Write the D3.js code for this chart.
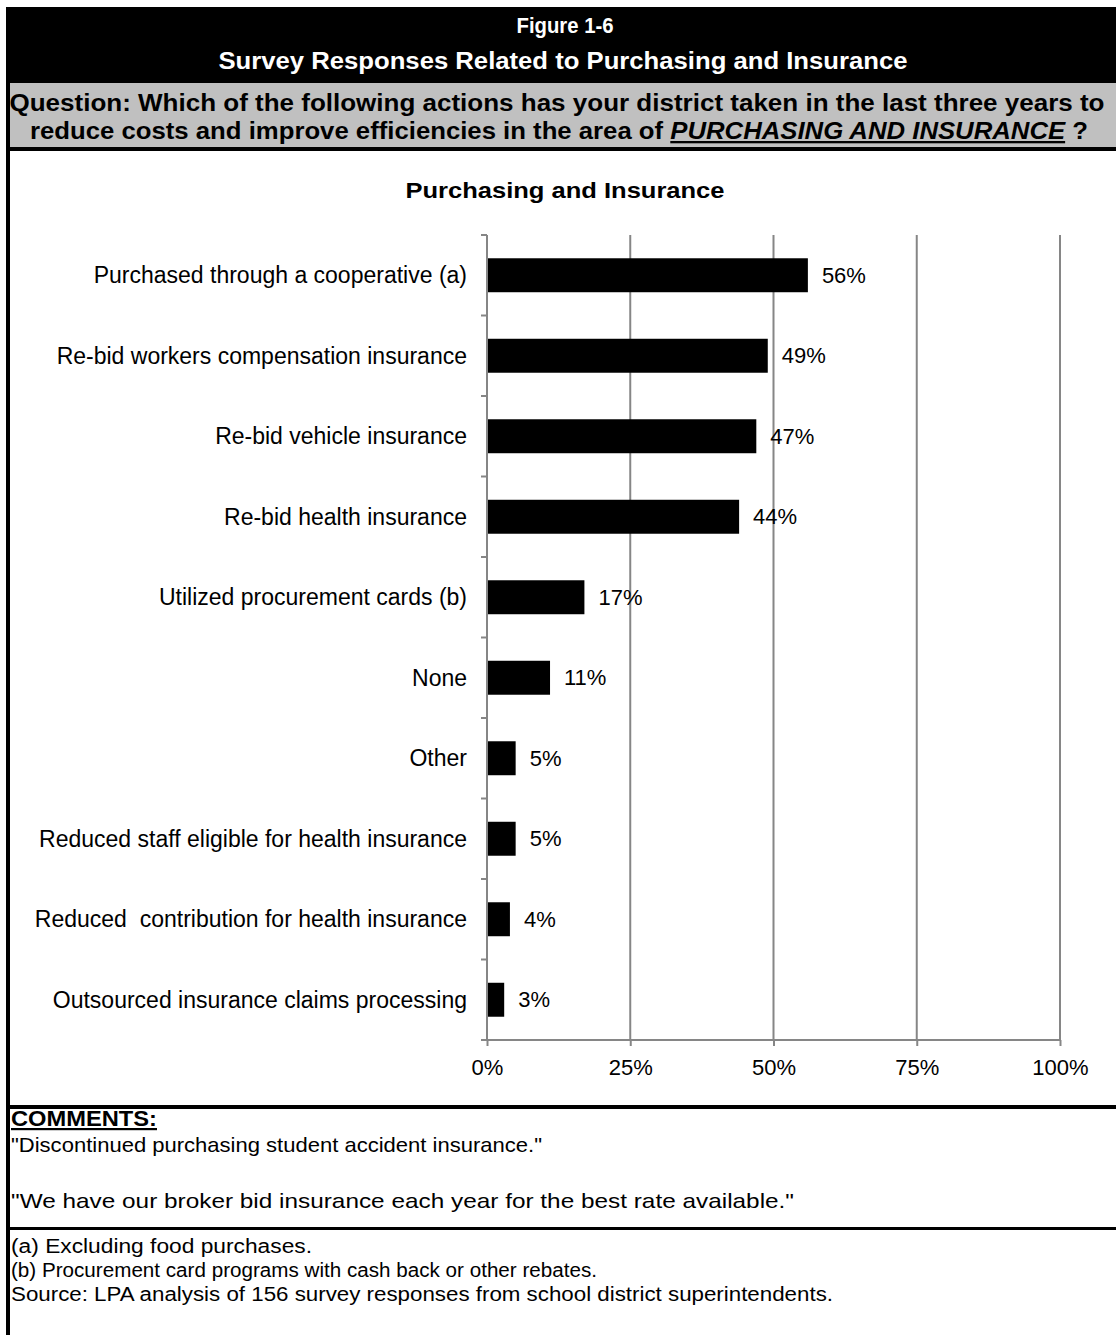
<!DOCTYPE html>
<html>
<head>
<meta charset="utf-8">
<script src="https://cdn.jsdelivr.net/npm/d3@7"></script>
<style>
  html, body { margin: 0; padding: 0; background: #fff; }
  svg { display: block; font-family: "Liberation Sans", Arial, sans-serif; }
  text { white-space: pre; }
</style>
</head>
<body>
<svg id="fig" width="1116" height="1335"></svg>
<script>
// Survey actions (top to bottom) and share of districts reporting each
const categories = [
  "Purchased through a cooperative (a)",
  "Re-bid workers compensation insurance",
  "Re-bid vehicle insurance",
  "Re-bid health insurance",
  "Utilized procurement cards (b)",
  "None",
  "Other",
  "Reduced staff eligible for health insurance",
  "Reduced  contribution for health insurance",
  "Outsourced insurance claims processing"
];
const values = [56, 49, 47, 44, 17, 11, 5, 5, 4, 3];
const xTicks = [0, 25, 50, 75, 100];

const figureNumber = "Figure 1-6";
const figureTitle = "Survey Responses Related to Purchasing and Insurance";
const questionLine1 = "Question: Which of the following actions has your district taken in the last three years to";
const questionLine2a = "reduce costs and improve efficiencies in the area of ";
const questionLine2b = "PURCHASING AND INSURANCE";
const questionLine2c = "?";
const chartTitle = "Purchasing and Insurance";
const commentsHeading = "COMMENTS:";
const comments = [
  "\"Discontinued purchasing student accident insurance.\"",
  "\"We have our broker bid insurance each year for the best rate available.\""
];
const footnotes = [
  "(a) Excluding food purchases.",
  "(b) Procurement card programs with cash back or other rebates.",
  "Source: LPA analysis of 156 survey responses from school district superintendents."
];

const svg = d3.select("#fig");
const W = 1116, H = 1335;

// Stretch or squeeze a text run so it spans the given width
function fit(sel, width) {
  sel.attr("textLength", width).attr("lengthAdjust", "spacingAndGlyphs");
  return sel;
}

// ---- frame ----
svg.append("rect").attr("x", 6).attr("y", 7).attr("width", W - 6).attr("height", 76).attr("fill", "#000");
svg.append("rect").attr("x", 10).attr("y", 83).attr("width", W - 10).attr("height", 64).attr("fill", "#c0c0c0");
svg.append("rect").attr("x", 6).attr("y", 147).attr("width", W - 6).attr("height", 4).attr("fill", "#000");
svg.append("rect").attr("x", 6).attr("y", 1105).attr("width", W - 6).attr("height", 4).attr("fill", "#000");
svg.append("rect").attr("x", 6).attr("y", 1227).attr("width", W - 6).attr("height", 3).attr("fill", "#000");
svg.append("rect").attr("x", 6).attr("y", 7).attr("width", 4).attr("height", H - 7).attr("fill", "#000");

// ---- header ----
fit(svg.append("text").attr("x", 565).attr("y", 33).attr("text-anchor", "middle")
  .attr("fill", "#fff").attr("font-weight", "bold").attr("font-size", 22).text(figureNumber), 97);
fit(svg.append("text").attr("x", 563).attr("y", 69).attr("text-anchor", "middle")
  .attr("fill", "#fff").attr("font-weight", "bold").attr("font-size", 23).text(figureTitle), 689);

fit(svg.append("text").attr("x", 557).attr("y", 111).attr("text-anchor", "middle")
  .attr("fill", "#000").attr("font-weight", "bold").attr("font-size", 23).text(questionLine1), 1095);

const q2 = svg.append("text").attr("x", 559).attr("y", 139).attr("text-anchor", "middle")
  .attr("fill", "#000").attr("font-weight", "bold").attr("font-size", 23);
q2.append("tspan").text(questionLine2a);
q2.append("tspan").attr("font-style", "italic").attr("text-decoration", "underline").text(questionLine2b);
q2.append("tspan").text(" " + questionLine2c);
fit(q2, 1058);

// ---- chart ----
const plot = { left: 487, right: 1060, top: 235, bottom: 1040 };
const x = d3.scaleLinear().domain([0, 100]).range([plot.left, plot.right]);
const y = d3.scaleBand().domain(categories).range([plot.top, plot.bottom])
  .paddingInner(0.578).paddingOuter(0.289);
const gridColor = "#868686";

fit(svg.append("text").attr("x", 565).attr("y", 198).attr("text-anchor", "middle")
  .attr("font-weight", "bold").attr("font-size", 22).text(chartTitle), 319);

// vertical gridlines
svg.append("g").selectAll("line").data(xTicks.filter(d => d > 0)).join("line")
  .attr("x1", d => x(d)).attr("x2", d => x(d))
  .attr("y1", plot.top).attr("y2", plot.bottom)
  .attr("stroke", gridColor).attr("stroke-width", 2);

// x axis (ticks point down)
const xAxis = svg.append("g").attr("transform", `translate(0,${plot.bottom})`)
  .call(d3.axisBottom(x).tickValues(xTicks).tickFormat(d => d + "%").tickSizeInner(6).tickSizeOuter(0).tickPadding(13));
xAxis.select(".domain").attr("stroke", gridColor).attr("stroke-width", 2)
  .attr("d", `M${plot.left - 6},0H${plot.right}`);
xAxis.selectAll(".tick line").attr("stroke", gridColor).attr("stroke-width", 2);
xAxis.selectAll(".tick text").attr("font-size", 22).attr("fill", "#000")
  .attr("font-family", "'Liberation Sans', Arial, sans-serif");

// y axis: line with tick marks between categories
const boundaries = d3.range(categories.length).map(i => plot.top + i * ((plot.bottom - plot.top) / categories.length));
const yAxis = svg.append("g");
yAxis.append("line").attr("x1", plot.left).attr("x2", plot.left)
  .attr("y1", plot.top).attr("y2", plot.bottom).attr("stroke", gridColor).attr("stroke-width", 2);
yAxis.selectAll("line.tk").data(boundaries).join("line").attr("class", "tk")
  .attr("x1", plot.left - 6).attr("x2", plot.left)
  .attr("y1", d => d).attr("y2", d => d)
  .attr("stroke", gridColor).attr("stroke-width", 2);

// category labels
svg.append("g").selectAll("text").data(categories).join("text")
  .attr("x", plot.left - 20).attr("y", d => y(d) + y.bandwidth() / 2)
  .attr("dy", "0.35em").attr("text-anchor", "end").attr("font-size", 23)
  .text(d => d);

// bars
const data = categories.map((c, i) => ({ c, v: values[i] }));
svg.append("g").selectAll("rect").data(data).join("rect")
  .attr("x", x(0) + 1).attr("y", d => y(d.c))
  .attr("width", d => x(d.v) - x(0) - 1).attr("height", y.bandwidth())
  .attr("fill", "#000");

// value labels
svg.append("g").selectAll("text").data(data).join("text")
  .attr("x", d => x(d.v) + 14).attr("y", d => y(d.c) + y.bandwidth() / 2)
  .attr("dy", "0.35em").attr("font-size", 22)
  .text(d => d.v + "%");

// ---- comments & notes ----
const ch = svg.append("text").attr("x", 11).attr("y", 1126)
  .attr("font-weight", "bold").attr("font-size", 22).attr("text-decoration", "underline")
  .text(commentsHeading);
fit(ch, 146);

const commentY = [1152, 1208];
const commentW = [531, 783];
comments.forEach((t, i) => {
  fit(svg.append("text").attr("x", 11).attr("y", commentY[i]).attr("font-size", 21).text(t), commentW[i]);
});

const noteY = [1253, 1277, 1301];
const noteW = [301, 586, 822];
footnotes.forEach((t, i) => {
  fit(svg.append("text").attr("x", 11).attr("y", noteY[i]).attr("font-size", 19.5).text(t), noteW[i]);
});
</script>
</body>
</html>
